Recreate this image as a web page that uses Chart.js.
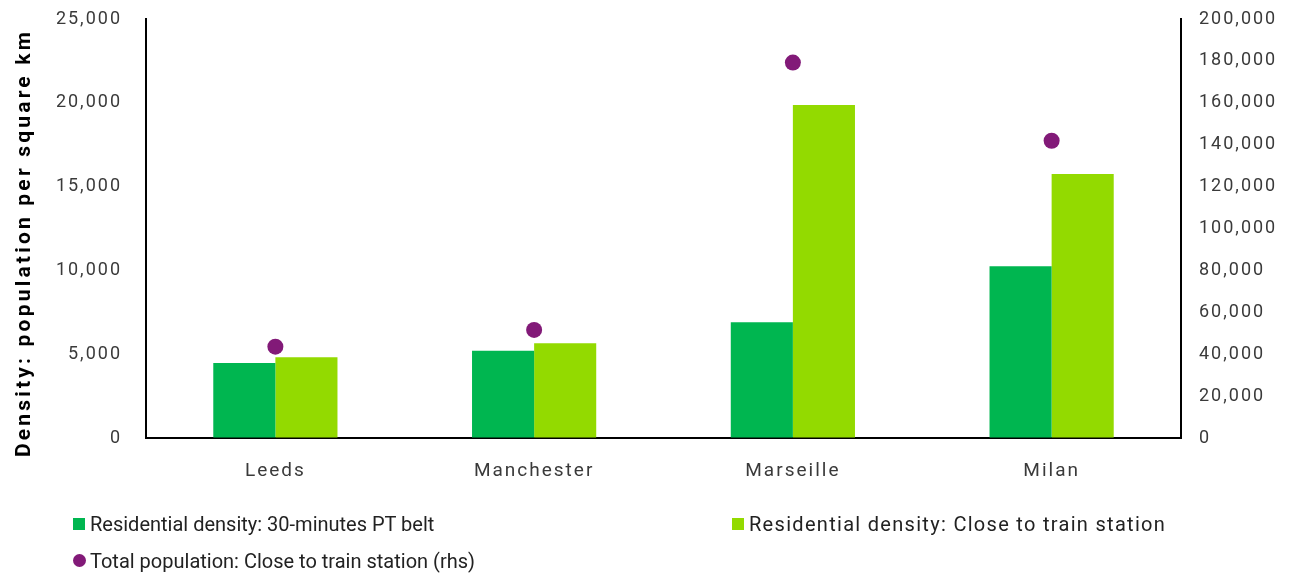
<!DOCTYPE html>
<html lang="en">
<head>
    <meta charset="UTF-8">
    <title>Density and population near train stations</title>
    <script src="https://cdn.jsdelivr.net/npm/chart.js@4.4.1/dist/chart.umd.min.js"></script>
    <style>
        body { margin: 0; background: #fff; }
        #wrap { position: relative; width: 1293px; height: 574px; }
        #legend { position: absolute; left: 0; top: 0; width: 1293px; height: 574px; pointer-events: none;
                  font-family: Roboto, sans-serif; font-size: 20px; color: #222; }
        .item { position: absolute; white-space: nowrap; line-height: 24px; }
        .item .mark { position: absolute; }
    </style>
</head>
<body>
    <div id="wrap">
        <canvas id="densityChart" width="1293" height="574"></canvas>
        <div id="legend"></div>
    </div>

    <script>
        // cities on the x axis
        const cities = ['Leeds', 'Manchester', 'Marseille', 'Milan'];
        // residential density, people per square km (left axis)
        const densityBelt = [4480, 5200, 6900, 10250];
        const densityStation = [4820, 5650, 19870, 15750];
        // total population close to the station (right axis)
        const populationStation = [43600, 51600, 179200, 141900];

        const leftMax = 25000, leftStep = 5000;
        const rightMax = 200000, rightStep = 20000;

        const yTitle = 'Density: population per square km';

        const colBelt = '#00B650';
        const colStation = '#93DA00';
        const colPop = '#821A78';
        const tickColor = '#3a3a3a';

        // canvas text gets a bit of tracking; the canvas resets its state on resize,
        // so set it again before every layout and draw
        const spacingPlugin = {
            id: 'spacing',
            beforeUpdate(chart) { chart.ctx.letterSpacing = '2px'; },
            beforeDraw(chart) { chart.ctx.letterSpacing = '2px'; }
        };

        // rotated y title drawn by hand so it can sit a little lower than centre
        const titlePlugin = {
            id: 'yTitle',
            afterDraw(chart) {
                const ctx = chart.ctx;
                ctx.save();
                ctx.letterSpacing = '3.2px';
                ctx.translate(25, 243);
                ctx.rotate(-Math.PI / 2);
                ctx.font = 'bold 21px Roboto';
                ctx.fillStyle = '#000';
                ctx.textAlign = 'center';
                ctx.textBaseline = 'middle';
                ctx.fillText(yTitle, 0, 0);
                ctx.restore();
            }
        };

        // invisible tick marks push the labels away from the axis line
        // without adding to the space reserved above the plot
        const hiddenTicks = len => ({
            display: true, drawOnChartArea: false, drawTicks: true,
            tickLength: len, tickColor: 'rgba(0,0,0,0)'
        });

        const ctx = document.getElementById('densityChart').getContext('2d');
        const chart = new Chart(ctx, {
            type: 'bar',
            data: {
                labels: cities,
                datasets: [{
                    type: 'line',
                    label: 'Total population: Close to train station (rhs)',
                    data: populationStation,
                    yAxisID: 'y1',
                    showLine: false,
                    pointRadius: 8,
                    pointHoverRadius: 8,
                    pointBackgroundColor: colPop,
                    pointBorderWidth: 0,
                    borderColor: colPop,
                    order: 0
                }, {
                    label: 'Residential density: 30-minutes PT belt',
                    data: densityBelt,
                    backgroundColor: colBelt,
                    yAxisID: 'y',
                    order: 1
                }, {
                    label: 'Residential density: Close to train station',
                    data: densityStation,
                    backgroundColor: colStation,
                    yAxisID: 'y',
                    order: 1
                }]
            },
            options: {
                responsive: false,
                animation: false,
                layout: { padding: { top: 19, left: 0, right: 0, bottom: 0 } },
                datasets: {
                    bar: { categoryPercentage: 0.48, barPercentage: 1.0 }
                },
                plugins: {
                    legend: { display: false },
                    tooltip: { enabled: false }
                },
                scales: {
                    x: {
                        grid: { display: false },
                        border: { display: true, color: '#000', width: 2 },
                        ticks: { color: tickColor, font: { family: 'Roboto', size: 19 }, padding: 14 },
                        afterFit(scale) { scale.height = 136; }
                    },
                    y: {
                        position: 'left',
                        min: 0,
                        max: leftMax,
                        grid: hiddenTicks(16),
                        border: { display: true, color: '#000', width: 2 },
                        ticks: { stepSize: leftStep, color: tickColor, font: { family: 'Roboto', size: 18 }, padding: 8 },
                        afterFit(scale) { scale.width = 146; }
                    },
                    y1: {
                        position: 'right',
                        min: 0,
                        max: rightMax,
                        grid: hiddenTicks(10),
                        border: { display: true, color: '#000', width: 2 },
                        ticks: { stepSize: rightStep, color: tickColor, font: { family: 'Roboto', size: 18 }, padding: 8 },
                        afterFit(scale) { scale.width = 112; }
                    }
                }
            },
            plugins: [spacingPlugin, titlePlugin]
        });

        // legend laid out in two columns under the chart
        const legendSpots = [
            { ds: 1, x: 73, y: 512, shape: 'square', track: 0 },
            { ds: 2, x: 732, y: 512, shape: 'square', track: 1.3 },
            { ds: 0, x: 73, y: 549, shape: 'circle', track: 0 }
        ];
        const legend = document.getElementById('legend');
        legendSpots.forEach(spot => {
            const ds = chart.data.datasets[spot.ds];
            const item = document.createElement('div');
            item.className = 'item';
            item.style.left = spot.x + 'px';
            item.style.top = spot.y + 'px';
            item.style.paddingLeft = '17px';
            item.style.letterSpacing = spot.track + 'px';
            const mark = document.createElement('span');
            mark.className = 'mark';
            if (spot.shape === 'square') {
                mark.style.cssText = 'left:0;top:6px;width:12px;height:12px;background:' + ds.backgroundColor;
            } else {
                mark.style.cssText = 'left:0;top:5px;width:13px;height:13px;border-radius:50%;background:' + ds.pointBackgroundColor;
            }
            item.appendChild(mark);
            item.appendChild(document.createTextNode(ds.label));
            legend.appendChild(item);
        });
    </script>
</body>
</html>
